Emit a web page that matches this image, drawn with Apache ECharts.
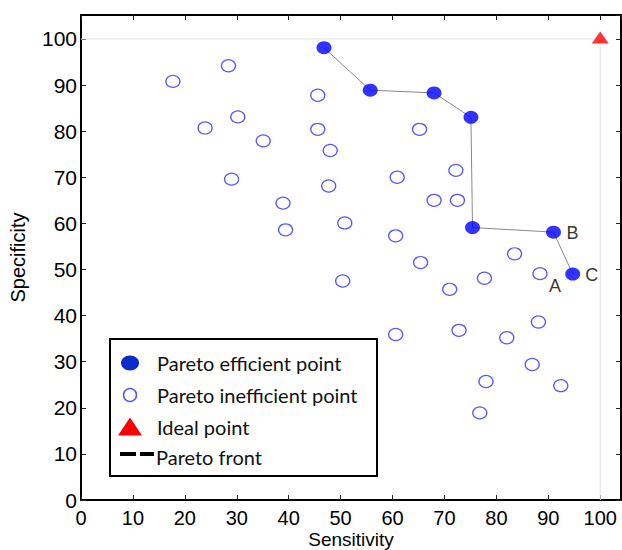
<!DOCTYPE html>
<html>
<head>
<meta charset="utf-8">
<script src="https://cdn.jsdelivr.net/npm/echarts@6/dist/echarts.min.js"></script>
<style>
  html, body { margin: 0; padding: 0; background: #fff; }
  #chart { width: 622px; height: 550px; }
</style>
</head>
<body>
<div id="chart"></div>
<script>
// Pareto-efficient classifiers (sensitivity, specificity), in front order
var efficientX = [46.8, 55.7, 68.0, 75.1, 75.4, 91.0, 94.7];
var efficientY = [98.1, 88.9, 88.3, 83.0, 59.1, 58.1, 49.0];

// Dominated (Pareto-inefficient) classifiers
var inefficientX = [17.7, 28.4, 23.9, 30.2, 35.1, 45.6, 45.6, 48.0, 29.0, 47.7, 38.9,
                    39.4, 50.8, 50.4, 65.2, 60.9, 72.2, 68.0, 72.5, 60.6, 65.4, 71.0,
                    83.5, 77.7, 88.4, 60.6, 72.8, 88.1, 82.0, 86.9, 78.0, 92.4, 76.8];
var inefficientY = [90.8, 94.2, 80.7, 83.1, 77.9, 87.8, 80.4, 75.8, 69.6, 68.1, 64.4,
                    58.6, 60.1, 47.5, 80.4, 70.0, 71.5, 65.0, 65.0, 57.3, 51.5, 45.7,
                    53.4, 48.1, 49.1, 35.9, 36.8, 38.6, 35.2, 29.4, 25.7, 24.8, 18.9];

// Ideal point (perfect sensitivity and specificity)
var idealX = 100;
var idealY = 100;

// Annotated points: letter, which set, index in that set
var markedPoints = [
  { text: 'A', set: 'inefficient', index: 24 },
  { text: 'B', set: 'efficient', index: 5 },
  { text: 'C', set: 'efficient', index: 6 }
];

var xTicks = [0, 10, 20, 30, 40, 50, 60, 70, 80, 90, 100];
var yTicks = [0, 10, 20, 30, 40, 50, 60, 70, 80, 90, 100];

var legendNames = ['Pareto efficient point', 'Pareto inefficient point', 'Ideal point', 'Pareto front'];

function labelFor(set, i) {
  for (var k = 0; k < markedPoints.length; k++) {
    if (markedPoints[k].set === set && markedPoints[k].index === i) return markedPoints[k];
  }
  return null;
}

var sansFamily = 'Arial, sans-serif';

var letterStyle = {
  show: true, position: 'inside', align: 'center', verticalAlign: 'middle',
  fontFamily: sansFamily, fontSize: 18, color: '#000'
};

var efficientData = efficientX.map(function (x, i) {
  var m = labelFor('efficient', i);
  var d = { value: [x, efficientY[i]] };
  if (m) d.label = Object.assign({}, letterStyle, { formatter: m.text, offset: [19, 0.5] });
  return d;
});
var inefficientData = inefficientX.map(function (x, i) {
  var m = labelFor('inefficient', i);
  var d = { value: [x, inefficientY[i]] };
  if (m) d.label = Object.assign({}, letterStyle, { formatter: m.text, offset: [15, 12] });
  return d;
});
var frontData = efficientX.map(function (x, i) { return [x, efficientY[i]]; });
var guideData = [[0, idealY], [idealX, idealY], [idealX, 0]];

function tickFormatter(ticks) {
  return function (v) { return ticks.indexOf(Math.round(v * 1000) / 1000) >= 0 ? String(v) : ''; };
}

var axisFont = { fontFamily: sansFamily, fontSize: 20, color: '#000' };
var lineStyleAxis = { color: '#000', width: 2 };
var tickStyle = { show: true, inside: true, length: 5, lineStyle: { color: '#222', width: 1 } };

var chart = echarts.init(document.getElementById('chart'), null, { renderer: 'svg' });

var legendLeft = 109, legendTop = 338;
var rowY = [362, 394, 425.5, 456];
var legendFont = { fontFamily: 'Lato, sans-serif', fontSize: 20, fill: '#111' };

var option = {
  animation: false,
  backgroundColor: '#fff',
  grid: { left: 81, right: 1, top: 15, bottom: 50, containLabel: false, outerBoundsMode: 'none' },
  xAxis: [{
    type: 'value', position: 'bottom', min: 0, max: 104, interval: 10,
    axisLine: { show: true, onZero: false, lineStyle: lineStyleAxis },
    axisTick: tickStyle,
    axisLabel: Object.assign({ margin: 8, formatter: tickFormatter(xTicks), showMaxLabel: false }, axisFont),
    splitLine: { show: false },
    name: 'Sensitivity', nameLocation: 'middle', nameGap: 30, nameMoveOverlap: false,
    nameTextStyle: Object.assign({}, axisFont, { fontSize: 19 })
  }, {
    type: 'value', position: 'top', min: 0, max: 104, interval: 10,
    axisLine: { show: true, onZero: false, lineStyle: lineStyleAxis },
    axisTick: tickStyle, axisLabel: { show: false }, splitLine: { show: false }
  }],
  yAxis: [{
    type: 'value', position: 'left', min: 0, max: 105.2, interval: 10,
    axisLine: { show: true, onZero: false, lineStyle: lineStyleAxis },
    axisTick: tickStyle,
    axisLabel: Object.assign({ margin: 4, formatter: tickFormatter(yTicks), showMaxLabel: false }, axisFont, { fontSize: 21 }),
    splitLine: { show: false },
    name: 'Specificity', nameLocation: 'middle', nameGap: 53, nameRotate: 90, nameMoveOverlap: false,
    nameTextStyle: Object.assign({}, axisFont, { fontSize: 20 })
  }, {
    type: 'value', position: 'right', min: 0, max: 105.2, interval: 10,
    axisLine: { show: true, onZero: false, lineStyle: lineStyleAxis },
    axisTick: tickStyle, axisLabel: { show: false }, splitLine: { show: false }
  }],
  series: [{
    name: 'guide', type: 'line', data: guideData, symbol: 'none', silent: true,
    lineStyle: { color: '#e2e2e2', width: 1 }, z: 1
  }, {
    name: legendNames[3], type: 'line', data: frontData, symbol: 'none', silent: true,
    lineStyle: { color: '#8a8a8a', width: 1 }, z: 2
  }, {
    name: legendNames[1], type: 'scatter', data: inefficientData, symbol: 'circle', symbolSize: [14, 12],
    itemStyle: { color: 'rgba(255,255,255,0)', borderColor: '#2f2fff', borderWidth: 1.3 }, z: 3
  }, {
    name: legendNames[0], type: 'scatter', data: efficientData, symbol: 'circle', symbolSize: [15, 13],
    itemStyle: { color: '#0000ff' }, z: 4
  }, {
    name: legendNames[2], type: 'scatter', data: [[idealX, idealY]], symbol: 'triangle', symbolSize: [17, 12],
    symbolOffset: [0, -1.5],
    itemStyle: { color: '#ff0000' }, z: 5
  }],
  graphic: [{
    type: 'group', left: legendLeft, top: legendTop, z: 100,
    children: [
      { type: 'rect', shape: { x: 0, y: 0, width: 267, height: 137 },
        style: { fill: '#fff', stroke: '#000', lineWidth: 2 } },
      { type: 'ellipse', shape: { cx: 20, cy: rowY[0] - legendTop, rx: 9, ry: 7.5 },
        style: { fill: '#0b2bc8' } },
      { type: 'circle', shape: { cx: 20, cy: rowY[1] - legendTop, r: 6.5 },
        style: { fill: '#fff', stroke: '#4a5ff0', lineWidth: 1.5 } },
      { type: 'polygon', shape: { points: [[8, rowY[2] - legendTop + 9], [32, rowY[2] - legendTop + 9], [20, rowY[2] - legendTop - 9]] },
        style: { fill: '#ff0000' } },
      { type: 'rect', shape: { x: 10, y: rowY[3] - legendTop - 5, width: 16, height: 4 }, style: { fill: '#000' } },
      { type: 'rect', shape: { x: 30, y: rowY[3] - legendTop - 5, width: 14, height: 4 }, style: { fill: '#000' } },
      { type: 'text', x: 47, y: rowY[0] - legendTop, style: Object.assign({ text: legendNames[0], verticalAlign: 'middle' }, legendFont) },
      { type: 'text', x: 47, y: rowY[1] - legendTop, style: Object.assign({ text: legendNames[1], verticalAlign: 'middle' }, legendFont) },
      { type: 'text', x: 47, y: rowY[2] - legendTop, style: Object.assign({ text: legendNames[2], verticalAlign: 'middle' }, legendFont) },
      { type: 'text', x: 46, y: rowY[3] - legendTop, style: Object.assign({ text: legendNames[3], verticalAlign: 'middle' }, legendFont) }
    ]
  }]
};

chart.setOption(option);
</script>
</body>
</html>
